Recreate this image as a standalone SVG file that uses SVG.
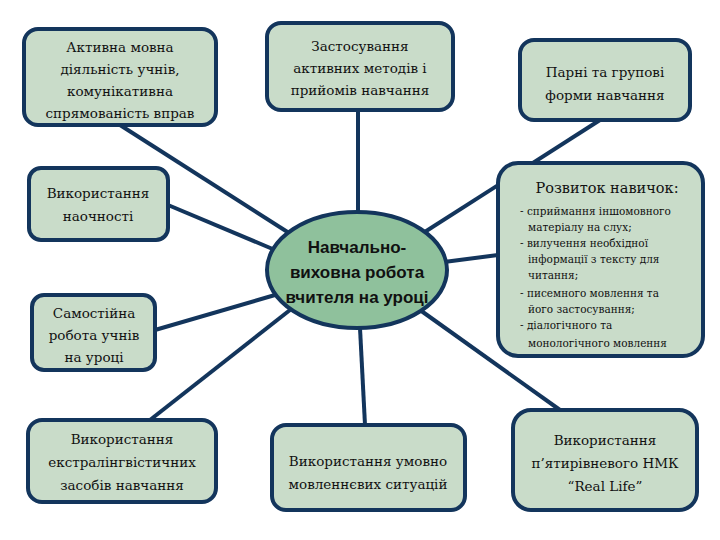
<svg xmlns="http://www.w3.org/2000/svg" width="720" height="540" viewBox="0 0 720 540">
<style>
.b{fill:#c9dcc9;stroke:#13355c;stroke-width:4}
.c line{stroke:#13355c;stroke-width:4}
.n text{font-family:"DejaVu Serif","Liberation Serif",serif;font-size:13.5px;fill:#111;text-anchor:middle}
.n text.s{font-size:10.5px;text-anchor:start}
#center text{font-family:"Liberation Sans",Arial,sans-serif;font-weight:bold;font-size:17px;fill:#111;text-anchor:middle}
</style>
<rect width="720" height="540" fill="#fff"/>
<g class="c">
<line x1="120" y1="125" x2="300" y2="240"/>
<line x1="168" y1="205" x2="275" y2="250"/>
<line x1="155" y1="330" x2="275" y2="295"/>
<line x1="150" y1="420" x2="290" y2="310"/>
<line x1="358" y1="110" x2="358" y2="212"/>
<line x1="360" y1="328" x2="365" y2="425"/>
<line x1="600" y1="120" x2="420" y2="235"/>
<line x1="498" y1="255" x2="444" y2="262"/>
<line x1="560" y1="410" x2="420" y2="310"/>
</g>
<g id="n1" class="n"><rect class="b" x="24" y="29" width="192" height="96" rx="14"/>
<text x="120" y="52">Активна мовна</text><text x="120" y="74">діяльність учнів,</text><text x="120" y="96">комунікативна</text><text x="120" y="118">спрямованість вправ</text></g>
<g id="n2" class="n"><rect class="b" x="267" y="23" width="186" height="87" rx="14"/>
<text x="360" y="51">Застосування</text><text x="360" y="73">активних методів і</text><text x="360" y="95">прийомів навчання</text></g>
<g id="n3" class="n"><rect class="b" x="520" y="40" width="170" height="80" rx="14"/>
<text x="605" y="77">Парні та групові</text><text x="605" y="100">форми навчання</text></g>
<g id="n4" class="n"><rect class="b" x="29" y="168" width="139" height="72" rx="12"/>
<text x="98" y="198">Використання</text><text x="98" y="221">наочності</text></g>
<g id="n5" class="n"><rect class="b" x="498" y="163" width="205" height="193" rx="20"/>
<text x="607" y="193" style="font-size:14.5px">Розвиток навичок:</text>
<text class="s" x="520" y="215">- сприймання іншомовного</text>
<text class="s" x="528" y="231">матеріалу на слух;</text>
<text class="s" x="520" y="247">- вилучення необхідної</text>
<text class="s" x="528" y="263">інформації з тексту для</text>
<text class="s" x="528" y="279">читання;</text>
<text class="s" x="520" y="297">- писемного мовлення та</text>
<text class="s" x="528" y="313">його застосування;</text>
<text class="s" x="520" y="329">- діалогічного та</text>
<text class="s" x="528" y="347">монологічного мовлення</text></g>
<g id="n6" class="n"><rect class="b" x="32" y="295" width="123" height="75" rx="12"/>
<text x="94" y="318">Самостійна</text><text x="94" y="340">робота учнів</text><text x="94" y="362">на уроці</text></g>
<g id="n7" class="n"><rect class="b" x="28" y="420" width="188" height="82" rx="14"/>
<text x="122" y="444">Використання</text><text x="122" y="467">екстралінгвістичних</text><text x="122" y="490">засобів навчання</text></g>
<g id="n8" class="n"><rect class="b" x="272" y="425" width="193" height="85" rx="14"/>
<text x="368" y="466">Використання умовно</text><text x="368" y="489">мовленнєвих ситуацій</text></g>
<g id="n9" class="n"><rect class="b" x="513" y="410" width="184" height="100" rx="18"/>
<text x="605" y="445">Використання</text><text x="605" y="468">п’ятирівневого НМК</text><text x="605" y="491">“Real Life”</text></g>
<g id="center"><ellipse cx="357" cy="270" rx="90" ry="58" fill="#8fc19c" stroke="#13355c" stroke-width="4"/>
<text x="357" y="253">Навчально-</text><text x="357" y="278">виховна робота</text><text x="357" y="303">вчителя на уроці</text></g>
</svg>
